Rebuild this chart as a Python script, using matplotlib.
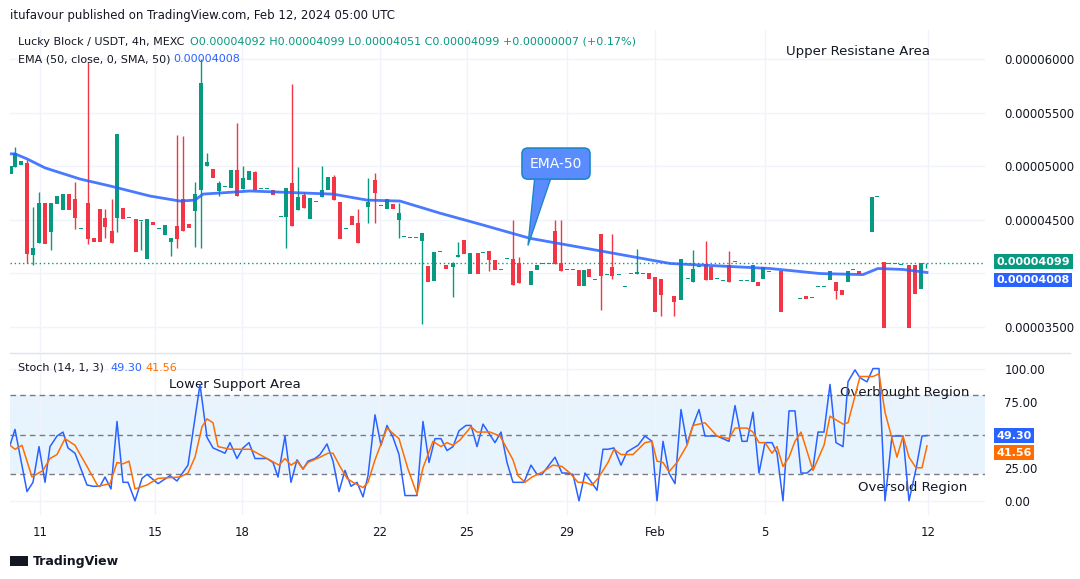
import matplotlib
matplotlib.use("Agg")
import matplotlib.pyplot as plt
from matplotlib.patches import Rectangle, FancyBboxPatch, Polygon
import numpy as np

# candles: (slot, open, high, low, close) in 1e-8 USDT
candles = [
(11,4925,5000,4925,5000),(15,4990,5180,4990,5120),(21,5010,5050,5010,5050),(27,5030,5060,4100,4185),
(33,4170,4620,4080,4240),(39,4280,4760,4280,4660),(45,4660,4660,4270,4270),(51,4390,4660,4220,4660),
(57,4645,4720,4645,4720),(63,4590,4740,4590,4740),(69,4740,4740,4590,4590),(75,4690,4850,4410,4520),
(81,4410,4410,4410,4410),(88,4660,5970,4270,4320),(94,4330,4330,4290,4290),(100,4600,4600,4290,4290),
(105,4520,4600,4330,4430),(112,4400,4690,4280,4280),(117,4520,5300,4390,5300),(123,4610,4610,4510,4510),
(129,4520,4520,4520,4520),(136,4510,4510,4195,4195),(141,4490,4490,4220,4490),(147,4130,4510,4130,4510),
(153,4480,4480,4450,4450),(159,4410,4410,4410,4410),(165,4355,4450,4355,4450),(171,4290,4330,4160,4330),
(177,4440,5295,4240,4320),(183,4690,5285,4400,4400),(189,4460,4460,4420,4420),(195,4580,4850,4250,4740),
(201,4780,6000,4240,5775),(207,5000,5120,5000,5040),(213,4970,4970,4890,4890),(219,4770,4860,4720,4840),
(225,4810,4810,4810,4810),(231,4800,4965,4800,4965),(237,4965,5400,4720,4720),(243,4790,5000,4790,4890),
(249,4870,4955,4870,4955),(255,4945,4960,4780,4780),(261,4790,4790,4790,4790),(267,4790,4790,4790,4790),
(273,4780,4780,4730,4730),(281,4530,4530,4530,4530),(286,4525,4800,4240,4800),(292,4840,5770,4445,4445),
(298,4590,4990,4590,4710),(304,4730,4760,4610,4610),(310,4505,4700,4505,4700),(316,4670,4670,4670,4670),
(322,4710,5000,4710,4780),(328,4780,4900,4780,4900),(334,4900,4920,4685,4685),(340,4670,4670,4325,4325),
(346,4410,4410,4410,4410),(352,4540,4540,4450,4450),(358,4470,4600,4280,4280),(368,4620,4890,4470,4670),
(375,4870,4940,4470,4750),(381,4630,4630,4630,4630),(387,4600,4690,4600,4690),(393,4650,4650,4600,4600),
(399,4500,4660,4330,4560),(404,4340,4340,4340,4340),(410,4330,4330,4330,4330),(416,4330,4330,4330,4330),
(422,4300,4375,3525,4375),(428,4070,4070,3920,3920),(434,3930,4195,3930,4195),(440,4195,4195,4195,4195),
(446,4080,4080,4040,4040),(453,4055,4110,3780,4100),(458,4150,4290,4150,4170),(464,4310,4310,4180,4180),
(470,3990,4190,3990,4190),(478,4190,4190,3990,3990),(483,4190,4190,4190,4190),(489,4205,4205,4020,4120),
(495,4120,4120,4035,4035),(501,4035,4035,4035,4035),(507,4130,4130,4130,4130),(513,4130,4495,3895,3895),
(519,4100,4150,3905,3905),(525,3905,3905,3905,3905),(531,3895,4025,3895,4025),(537,4030,4080,4030,4080),
(543,4090,4090,4090,4090),(549,4090,4090,4090,4090),(555,4395,4495,4090,4090),(561,4100,4495,4025,4025),
(567,4035,4035,4035,4035),(573,4035,4035,4035,4035),(579,4035,4035,3885,3885),(584,3885,4035,3885,4035),
(589,4045,4045,3970,3970),(595,3940,3940,3940,3940),(601,4365,4365,3660,3975),(607,3980,3980,3980,3980),
(612,4055,4365,3950,3975),(619,3980,3980,3980,3980),(625,3870,3870,3870,3870),(631,3990,3990,3990,3990),
(637,3990,4230,3990,4010),(643,3990,3990,3990,3990),(649,4000,4000,3950,3950),(655,3970,3970,3640,3640),
(661,3950,3950,3600,3800),(674,3790,3790,3600,3730),(681,3750,4130,3750,4130),(688,3950,3950,3950,3950),
(693,3915,4220,3915,4045),(699,4060,4060,4060,4060),(706,4090,4300,3940,3940),(711,4060,4060,3940,3940),
(717,3950,3950,3950,3950),(723,3930,3930,3930,3930),(729,4075,4210,3915,3915),(735,4110,4110,4110,4110),
(741,3930,3930,3930,3930),(747,3930,3930,3930,3930),(753,3915,4075,3915,4075),(758,3915,3915,3880,3880),
(763,3950,4055,3950,4055),(769,4010,4010,4010,4010),(781,4025,4025,3640,3640),(800,3760,3760,3760,3760),
(806,3790,3790,3760,3760),(812,3770,3770,3770,3770),(818,3870,3870,3870,3870),(824,3870,3870,3870,3870),
(830,3940,4025,3940,4025),(836,3920,3920,3760,3835),(842,3840,3840,3800,3800),(848,3920,4025,3920,4025),
(853,4030,4030,4030,4030),(859,4020,4020,3990,3990),(872,4385,4715,4385,4715),(877,4715,4715,4715,4715),
(884,4110,4110,3490,3490),(889,4090,4090,4090,4090),(895,4090,4090,4090,4090),(901,4080,4080,4080,4080),
(909,4080,4080,3490,3490),(915,4080,4080,3810,3810),(921,3850,4092,3850,4092),(926,4092,4099,4051,4099),
]

ema_x = [10,15,27,45,80,110,150,180,195,203,250,333,367,400,440,480,530,603,670,770,820,863,878,903,927]
ema_y = [5116,5116,5069,4985,4881,4816,4722,4675,4684,4740,4769,4740,4684,4675,4562,4459,4327,4205,4092,4045,3998,3988,4045,4036,4008]

k_x = [10,15,27,33,39,45,50,57,63,68,75,87,93,100,105,111,117,123,128,135,142,147,158,170,177,188,200,207,213,225,230,237,243,249,255,267,273,278,285,291,297,303,308,315,320,327,333,339,345,351,357,363,368,375,381,387,393,399,405,417,423,429,435,441,447,453,459,466,471,
       477,483,495,501,507,513,524,531,537,542,555,562,567,573,579,585,597,603,608,614,621,627,638,645,652,657,663,669,675,681,687,693,699,705,717,723,729,735,742,747,753,759,765,772,777,783,789,795,801,807,813,818,824,830,836,843,848,855,860,867,873,879,885,892,903,909,916,922,927]
k_v = [42,54,7,14,41,14,41,49,52,40,36,12,11,11,18,9,60,14,14,0,17,20,13,19,15,27,88,48,40,36,44,32,40,44,32,32,29,18,49,14,31,24,30,32,35,43,30,7,23,11,14,3,19,65,42,57,48,35,4,4,60,29,47,47,38,41,53,57,57,
       41,58,44,52,29,14,14,27,20,20,33,21,21,20,0,21,8,39,39,40,27,37,42,49,45,0,45,21,13,69,43,57,69,49,49,47,45,72,45,45,67,21,44,44,36,0,68,68,21,21,25,52,52,88,44,41,90,99,93,90,100,100,0,49,49,0,24,49,49.3]

d_x = [10,15,22,32,43,50,57,65,75,87,98,110,117,123,129,135,147,158,180,188,195,202,207,213,218,230,250,267,279,285,291,297,303,308,320,328,333,340,347,353,363,368,375,387,399,408,417,423,433,441,447,453,460,471,477,
       490,500,513,518,525,532,543,553,562,570,578,585,592,598,608,614,621,633,645,652,657,663,669,677,687,693,705,717,729,735,747,753,759,765,772,777,783,789,795,801,813,824,830,843,848,860,873,879,885,897,903,909,916,922,927]
d_v = [42,39,42,18,23,32,35,47,42,26,11,13,29,28,30,9,12,17,18,21,33,56,62,59,41,39,39,32,27,32,27,30,24,29,33,36,36,26,17,14,10,14,31,55,47,24,5,25,45,41,44,42,46,56,52,
       52,49,31,19,14,18,22,27,26,21,14,14,12,17,29,39,35,35,44,45,30,29,22,29,42,57,59,49,47,55,55,52,44,44,36,41,26,33,45,52,23,42,64,58,59,94,94,96,67,33,49,33,25,25,41.56]

price_ticks = [3500,4500,5000,5500,6000]
x_tick_pos = [40,155,242,380,467,567,655,765,928]
x_tick_lab = ["11","15","18","22","25","29","Feb","5","12"]

GREEN, RED, BLUE, ORANGE = "#089981", "#F23645", "#2962FF", "#FF6D00"
TXT = "#131722"

fig = plt.figure(figsize=(10.8, 5.79), dpi=100)
fig.patch.set_facecolor("white")
W, H = 1080, 579
def axrect(x0, y0, x1, y1):
    return [x0 / W, 1 - y1 / H, (x1 - x0) / W, (y1 - y0) / H]

ax = fig.add_axes(axrect(10, 30, 985, 352))
ax2 = fig.add_axes(axrect(10, 354, 985, 515))
for a in (ax, ax2):
    for s in a.spines.values():
        s.set_visible(False)
    a.set_xlim(10, 985)
    a.set_xticks(x_tick_pos)
    a.grid(True, color="#f0f3fa", lw=1)
    a.tick_params(length=0, colors=TXT, labelsize=8.5)
    a.yaxis.tick_right()

ax.set_ylim(3265, 6273)
ax.set_yticks(price_ticks)
ax.set_yticklabels([f"{p*1e-8:.8f}" for p in price_ticks])
ax.tick_params(axis="y", pad=14)
ax.set_xticklabels([])
for gy in (4000,):
    ax.axhline(gy, color="#f0f3fa", lw=1, zorder=0)

for (x, o, h, l, c) in candles:
    col = GREEN if c >= o else RED
    if h > max(o, c) or l < min(o, c):
        ax.vlines(x, l, h, color=col, lw=1, zorder=3)
    b = max(abs(c - o), 9)
    ax.add_patch(Rectangle((x - 2, min(o, c)), 4, b, color=col, lw=0, zorder=4))

ax.plot(ema_x, ema_y, color=BLUE, lw=2, zorder=5, alpha=0.85)
ax.axhline(4099, color=GREEN, lw=1, ls=(0, (1, 2)), zorder=2)

# value tags
def tag(a, y, s, bg):
    a.text(1.012, y, s, transform=a.get_yaxis_transform(), color="white", fontsize=8,
           fontweight="bold", va="center", ha="left",
           bbox=dict(boxstyle="square,pad=0.2", fc=bg, ec="none"), zorder=10)
tag(ax, 4110, "0.00004099", GREEN)
tag(ax, 3940, "0.00004008", BLUE)

# callout
ax.add_patch(Polygon([[535, 4920], [552, 4920], [528, 4260]], closed=True, fc="#5b8cff", ec="#1e88c8", lw=1, zorder=8))
ax.add_patch(FancyBboxPatch((522, 4880), 68, 290, boxstyle="round,pad=0,rounding_size=6",
                            fc="#5b8cff", ec="#1e88c8", lw=1.2, zorder=9, mutation_aspect=9))
ax.text(556, 5025, "EMA-50", color="white", fontsize=10, ha="center", va="center", zorder=10)
ax.text(858, 6000 + 8 * 9.4, "Upper Resistane Area", fontsize=9.5, ha="center", va="center", color=TXT)

# stoch
ax2.set_ylim(-10.7, 111)
ax2.set_yticks([0, 25, 75, 100])
ax2.set_yticklabels(["0.00", "25.00", "75.00", "100.00"])
ax2.tick_params(axis="y", pad=14)
ax2.axhspan(20, 80, color="#2196F3", alpha=0.1, lw=0)
for lv in (20, 50, 80):
    ax2.axhline(lv, color="#787B86", lw=1, ls=(0, (4, 3)))
ax2.plot(k_x, k_v, color=BLUE, lw=1.1, zorder=5)
ax2.plot(d_x, d_v, color=ORANGE, lw=1.1, zorder=6)
tag(ax2, 49.3, "49.30", BLUE)
tag(ax2, 36.5, "41.56", ORANGE)
ax2.set_xticklabels(x_tick_lab)
ax2.tick_params(axis="x", pad=8)
ax2.text(235, 88, "Lower Support Area", fontsize=9.5, ha="center", va="center", color=TXT)
ax2.text(905, 82, "Overbought Region", fontsize=9.5, ha="center", va="center", color=TXT)
ax2.text(913, 10, "Oversold Region", fontsize=9.5, ha="center", va="center", color=TXT)

# separator
fig.add_artist(plt.Line2D([10 / W, 1070 / W], [1 - 353 / H] * 2, color="#e0e3eb", lw=1))

# headers
fs = 8
fig.text(10 / W, 1 - 15 / H, "itufavour published on TradingView.com, Feb 12, 2024 05:00 UTC",
         fontsize=8.5, va="center", color=TXT)
fig.text(18 / W, 1 - 42 / H, "Lucky Block / USDT, 4h, MEXC", fontsize=fs, va="center", color=TXT)
fig.text(190 / W, 1 - 42 / H, "O0.00004092 H0.00004099 L0.00004051 C0.00004099 +0.00000007 (+0.17%)",
         fontsize=fs, va="center", color=GREEN)
fig.text(18 / W, 1 - 59 / H, "EMA (50, close, 0, SMA, 50)", fontsize=fs, va="center", color=TXT)
fig.text(173 / W, 1 - 59 / H, "0.00004008", fontsize=fs, va="center", color=BLUE)
fig.text(18 / W, 1 - 368 / H, "Stoch (14, 1, 3)", fontsize=fs, va="center", color=TXT)
fig.text(110 / W, 1 - 368 / H, "49.30", fontsize=fs, va="center", color=BLUE)
fig.text(145 / W, 1 - 368 / H, "41.56", fontsize=fs, va="center", color=ORANGE)
fig.add_artist(Rectangle((10 / W, 1 - 566 / H), 18 / W, 10 / H, transform=fig.transFigure, fc=TXT, ec="none"))
fig.text(33 / W, 1 - 561 / H, "TradingView", fontsize=9, va="center", color=TXT, fontweight="bold")

fig.savefig("out.png", dpi=100, facecolor="white")
